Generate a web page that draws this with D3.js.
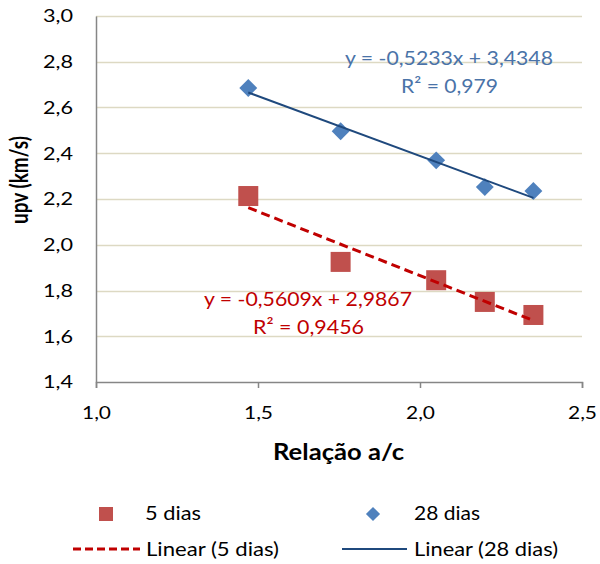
<!DOCTYPE html>
<html>
<head>
<meta charset="utf-8">
<script src="https://cdn.jsdelivr.net/npm/d3@7"></script>
<style>
  html, body { margin: 0; padding: 0; background: #fff; }
  svg { display: block; font-family: Lato, "Open Sans", sans-serif; }
</style>
</head>
<body>
<svg id="chart" width="600" height="564"></svg>
<script>
// Relação a/c versus pulse velocity at 5 and 28 days
const ratio = [1.47, 1.755, 2.05, 2.2, 2.35];
const upv5 = [2.213, 1.925, 1.845, 1.750, 1.693];
const upv28 = [2.685, 2.496, 2.369, 2.252, 2.235];

// linear trend lines: [slope, intercept, R²]
const fit5 = [-0.5609, 2.9867, 0.9456];
const fit28 = [-0.5233, 3.4348, 0.979];

const xTicks = [1.0, 1.5, 2.0, 2.5];
const yTicks = [1.4, 1.6, 1.8, 2.0, 2.2, 2.4, 2.6, 2.8, 3.0];

const seriesNames = ["5 dias", "28 dias", "Linear (5 dias)", "Linear (28 dias)"];

const red = "#C0504D", redLine = "#C00000";
const blue = "#4F81BD", blueLine = "#1F497D";
const comma = d => d3.format(".1f")(d).replace(".", ",");
const num = d => d.toString().replace(".", ",");

// widen glyphs horizontally to a set advance width
const widen = (sel, w) => sel.attr("textLength", w).attr("lengthAdjust", "spacingAndGlyphs");

const svg = d3.select("#chart");
const x = d3.scaleLinear().domain([1.0, 2.5]).range([96, 582]);
const y = d3.scaleLinear().domain([1.4, 3.0]).range([382, 16]);

// horizontal gridlines
svg.append("g")
  .selectAll("line").data(yTicks.slice(1)).join("line")
  .attr("x1", x(1.0)).attr("x2", x(2.5))
  .attr("y1", d => Math.round(y(d)) + 0.5).attr("y2", d => Math.round(y(d)) + 0.5)
  .attr("stroke", "#DDD9C3").attr("stroke-width", 1.5);

// y axis
const yAxis = svg.append("g").attr("transform", `translate(${x(1.0)},0)`)
  .call(d3.axisLeft(y).tickValues(yTicks).tickFormat(comma).tickSize(0).tickPadding(23));
yAxis.select(".domain").attr("stroke", "#868686").attr("stroke-width", 1.5);
yAxis.selectAll("text").attr("font-size", 18).attr("fill", "#000")
  .attr("font-family", "Lato, sans-serif").call(widen, 30);

// x axis
const xAxis = svg.append("g").attr("transform", `translate(0,${y(1.4)})`)
  .call(d3.axisBottom(x).tickValues(xTicks).tickFormat(comma).tickSize(6).tickPadding(18));
xAxis.select(".domain").attr("stroke", "#868686").attr("stroke-width", 1.5);
xAxis.selectAll("line").attr("stroke", "#868686").attr("stroke-width", 1.5);
xAxis.selectAll("text").attr("font-size", 18).attr("fill", "#000")
  .attr("font-family", "Lato, sans-serif").call(widen, 29);

// axis titles
svg.append("text").attr("x", 273).attr("y", 460)
  .attr("font-size", 23).attr("font-weight", "bold").text("Relação a/c").call(widen, 131);
svg.append("text").attr("transform", `translate(28,${(133 + 227) / 2}) rotate(-90) scale(1,1.3)`)
  .attr("text-anchor", "middle").attr("font-size", 19).attr("font-weight", "bold").text("upv (km/s)");

// markers
const sq = 20;
svg.append("g").selectAll("rect").data(ratio).join("rect")
  .attr("x", (d) => x(d) - sq / 2).attr("y", (d, i) => y(upv5[i]) - sq / 2)
  .attr("width", sq).attr("height", sq).attr("fill", red);

const diamond = d3.symbol().type(d3.symbolSquare).size(160);
svg.append("g").selectAll("path").data(ratio).join("path")
  .attr("d", diamond)
  .attr("transform", (d, i) => `translate(${x(d)},${y(upv28[i])}) rotate(45)`)
  .attr("fill", blue);

// trend lines across the data range
const xMin = d3.min(ratio), xMax = d3.max(ratio);
const trend = (f) => [[xMin, f[0] * xMin + f[1]], [xMax, f[0] * xMax + f[1]]];
const line = d3.line().x(d => x(d[0])).y(d => y(d[1]));
svg.append("path").attr("d", line(trend(fit5))).attr("fill", "none")
  .attr("stroke", redLine).attr("stroke-width", 3).attr("stroke-dasharray", "9,5");
svg.append("path").attr("d", line(trend(fit28))).attr("fill", "none")
  .attr("stroke", blueLine).attr("stroke-width", 2);

// equation labels
function eqLabel(f, x0, by, x2, color) {
  const g = svg.append("g").attr("fill", color).attr("font-size", 20);
  g.append("text").attr("x", x0).attr("y", by)
    .text(`y = ${num(f[0])}x + ${num(f[1])}`).call(widen, 208);
  g.append("text").attr("x", x2[0]).attr("y", by + 28)
    .text(`R² = ${num(f[2])}`).call(widen, x2[1]);
}
eqLabel(fit28, 345, 65, [401, 97], "#4A73A8");
eqLabel(fit5, 204, 306, [253, 111], "#C00000");

// legend
const lg = svg.append("g").attr("font-size", 20).attr("fill", "#000");
lg.append("rect").attr("x", 99).attr("y", 507).attr("width", 14).attr("height", 14).attr("fill", red);
lg.append("text").attr("x", 145).attr("y", 520).text(seriesNames[0]).call(widen, 56);
lg.append("path").attr("d", d3.symbol().type(d3.symbolSquare).size(100))
  .attr("transform", "translate(373,514) rotate(45)").attr("fill", blue);
lg.append("text").attr("x", 414).attr("y", 520).text(seriesNames[1]).call(widen, 66);
lg.append("line").attr("x1", 73).attr("x2", 140).attr("y1", 549).attr("y2", 549)
  .attr("stroke", redLine).attr("stroke-width", 3).attr("stroke-dasharray", "8,4");
lg.append("text").attr("x", 146).attr("y", 556).text(seriesNames[2]).call(widen, 133);
lg.append("line").attr("x1", 342).attr("x2", 407).attr("y1", 549).attr("y2", 549)
  .attr("stroke", blueLine).attr("stroke-width", 2);
lg.append("text").attr("x", 414).attr("y", 556).text(seriesNames[3]).call(widen, 144);
</script>
</body>
</html>
